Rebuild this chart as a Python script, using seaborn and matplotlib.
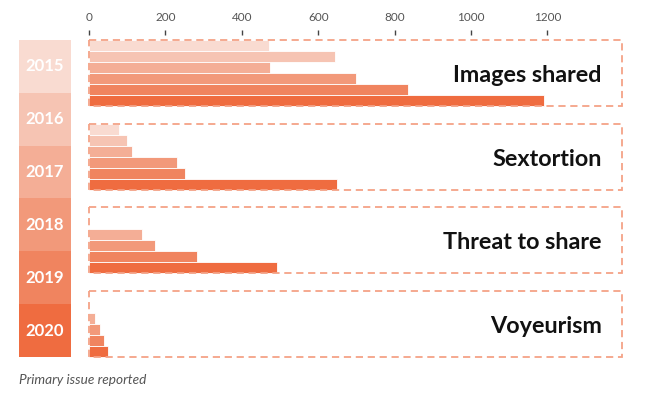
import numpy as np
import pandas as pd
import seaborn as sns
import matplotlib
matplotlib.use("Agg")
import matplotlib.pyplot as plt
from matplotlib.colors import ListedColormap
from matplotlib.patches import Rectangle

# ---- data ----
years = ["2015", "2016", "2017", "2018", "2019", "2020"]
issues = ["Images shared", "Sextortion", "Threat to share", "Voyeurism"]
images_shared = [470, 645, 475, 700, 835, 1190]
sextortion = [78, 99, 113, 230, 252, 650]
threat_to_share = [0, 0, 140, 174, 283, 491]
voyeurism = [0, 0, 16, 28, 39, 50]
x_ticks = [0, 200, 400, 600, 800, 1000, 1200]
footnote = "Primary issue reported"

year_colors = ["#f9dbd1", "#f6c4b3", "#f4ae96", "#f2997a", "#f0845f", "#ef6c40"]
box_color = "#f4a387"

rows = []
for issue, vals in zip(issues, [images_shared, sextortion, threat_to_share, voyeurism]):
    for y, v in zip(years, vals):
        rows.append({"issue": issue, "year": y, "value": v})
df = pd.DataFrame(rows)

sns.set_style("white")
plt.rcParams["font.family"] = ["Lato", "DejaVu Sans"]

W, H = 648, 393
fig = plt.figure(figsize=(W / 100, H / 100), dpi=100)

# main bar axes
ax = fig.add_axes([89 / W, 1 - 362 / H, 533 / W, 327 / H])
bw = 0.79
sns.barplot(data=df, x="value", y="issue", hue="year", hue_order=years,
            order=issues, palette=year_colors, width=bw, orient="h",
            saturation=1, edgecolor="white", linewidth=0.6, legend=False, ax=ax)
ax.set_xlim(0, 1395)
ax.set_ylim(3.455, -0.455)
for s in ax.spines.values():
    s.set_visible(False)
ax.set_xlabel("")
ax.set_ylabel("")
ax.set_yticks([])
ax.xaxis.tick_top()
ax.set_xticks(x_ticks)
ax.set_xticklabels([str(t) for t in x_ticks])
ax.tick_params(axis="x", top=True, bottom=False, length=3.5, width=1,
               color="#444444", labelcolor="#555555", labelsize=8.5, pad=5)

tr = ax.get_yaxis_transform()
for i, issue in enumerate(issues):
    ax.add_patch(Rectangle((0, i - bw / 2), 1, bw, transform=tr, fill=False,
                           edgecolor=box_color, lw=1.3, ls=(0, (4, 2.6)),
                           clip_on=False, zorder=5))
    ax.text((601.5 - 89) / 533, i + 0.03, issue, transform=tr, ha="right",
            va="center", fontsize=16.8, fontweight="bold", color="#111111",
            zorder=6)

# year column
axy = fig.add_axes([19 / W, 1 - 357 / H, 52 / W, 317 / H])
mat = np.arange(len(years)).reshape(-1, 1)
annot = np.array(years).reshape(-1, 1)
sns.heatmap(mat, cmap=ListedColormap(year_colors), annot=annot, fmt="",
            cbar=False, ax=axy, linewidths=0,
            annot_kws={"color": "white", "fontsize": 12, "fontweight": "bold"})
axy.set_xticks([])
axy.set_yticks([])
axy.set_xlabel("")
axy.set_ylabel("")

fig.text(19 / W, 1 - 380 / H, footnote, ha="left", va="center",
         fontsize=9.8, style="italic", color="#555555")

fig.savefig("out.png", dpi=100)
